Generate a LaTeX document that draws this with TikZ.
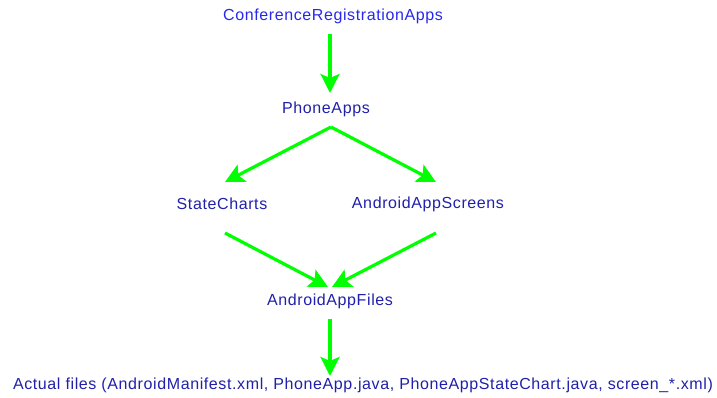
\documentclass[tikz,border=0pt]{standalone}
\usepackage{fontspec}
\setmainfont{Liberation Sans}[LetterSpace=3.8]
\usetikzlibrary{arrows.meta}
\definecolor{topblue}{RGB}{40,40,235}
\definecolor{navy}{RGB}{32,32,170}
\definecolor{arrowgreen}{RGB}{0,255,0}
\begin{document}
\begin{tikzpicture}[x=1pt,y=-1pt,
  lbl/.style={inner sep=0pt, text=navy, font=\fontsize{16}{19}\selectfont},
  conn/.style={draw=arrowgreen, line width=3.2pt,
    -{Stealth[length=19pt,width=19pt,inset=4pt]}}]
\path[use as bounding box] (0,0) rectangle (717,397);
\node[lbl, text=topblue] (conf) at (333,16) {ConferenceRegistrationApps};
\node[lbl] (phone) at (326,109.5) {PhoneApps};
\node[lbl] (state) at (222,204) {StateCharts};
\node[lbl] (screens) at (428,204) {AndroidAppScreens};
\node[lbl] (files) at (330,301) {AndroidAppFiles};
\node[lbl] (actual) at (363,385) {Actual files (AndroidManifest.xml, PhoneApp.java, PhoneAppStateChart.java, screen\_*.xml)};
\coordinate (c1s) at (330,34);
\coordinate (c1e) at (330,93);
\coordinate (c2s) at (331,127);
\coordinate (c2l) at (225,182);
\coordinate (c2r) at (436,182);
\coordinate (c3l) at (225,233);
\coordinate (c3r) at (436,233);
\coordinate (c3e) at (328,287);
\coordinate (c3f) at (332,287);
\coordinate (c4s) at (330,319);
\coordinate (c4e) at (330,376);
\draw[conn] (c1s) -- (c1e);
\draw[conn] (c2s) -- (c2l);
\draw[conn] (c2s) -- (c2r);
\draw[conn] (c3l) -- (c3e);
\draw[conn] (c3r) -- (c3f);
\draw[conn] (c4s) -- (c4e);
\end{tikzpicture}
\end{document}
